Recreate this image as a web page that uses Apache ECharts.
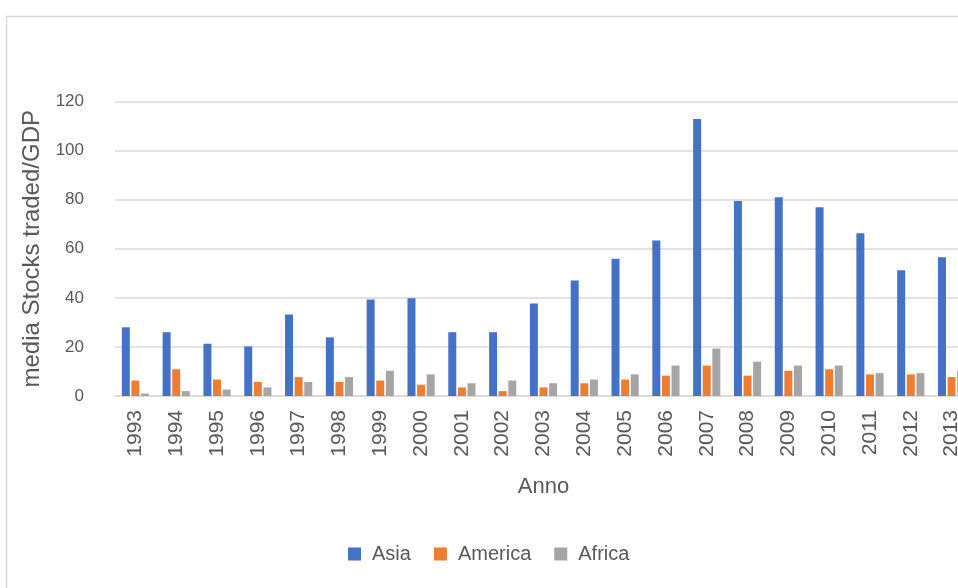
<!DOCTYPE html>
<html>
<head>
<meta charset="utf-8">
<script src="https://cdn.jsdelivr.net/npm/echarts@6/dist/echarts.min.js"></script>
<style>
html,body{margin:0;padding:0;background:#fff;}
#chart{width:958px;height:588px;}
</style>
</head>
<body>
<div id="chart"></div>
<script>
const years = ['1993','1994','1995','1996','1997','1998','1999','2000','2001','2002','2003','2004','2005','2006','2007','2008','2009','2010','2011','2012','2013'];
const asia    = [28.0, 26.0, 21.3, 20.2, 33.2, 23.9, 39.3, 39.8, 26.0, 26.0, 37.7, 47.1, 55.9, 63.4, 112.9, 79.5, 81.0, 76.9, 66.3, 51.2, 56.5];
const america = [6.3, 10.9, 6.7, 5.7, 7.7, 5.7, 6.3, 4.6, 3.5, 2.0, 3.5, 5.2, 6.7, 8.3, 12.4, 8.3, 10.3, 10.9, 8.8, 8.8, 7.7];
const africa  = [1.0, 2.0, 2.6, 3.5, 5.7, 7.7, 10.3, 8.8, 5.2, 6.3, 5.2, 6.7, 8.8, 12.4, 19.3, 14.0, 12.4, 12.4, 9.3, 9.3, 10.3];
const yTicks = [0, 20, 40, 60, 80, 100, 120];

const txt = '#595959';
const font = 'Liberation Sans';
const chart = echarts.init(document.getElementById('chart'));
chart.setOption({
  animation: false,
  textStyle: {fontFamily: font},
  graphic: [{
    type: 'rect', left: 4, top: 14, silent: true,
    shape: {width: 1100, height: 1000},
    style: {fill: 'none', stroke: '#D9D9D9', lineWidth: 1.5}
  }],
  legend: {
    left: 343, top: 539,
    itemWidth: 13, itemHeight: 13, itemGap: 23,
    icon: 'rect',
    textStyle: {color: txt, fontSize: 20, fontFamily: font, padding: [0, 0, 0, 6]},
    data: ['Asia', 'America', 'Africa']
  },
  grid: {left: 115, width: 857, top: 101.5, height: 294.5, containLabel: false, outerBoundsMode: 'none'},
  xAxis: {
    type: 'category',
    data: years,
    name: 'Anno',
    nameLocation: 'middle',
    nameGap: 80,
    nameTextStyle: {color: txt, fontSize: 22, fontFamily: font, verticalAlign: 'top'},
    axisLine: {lineStyle: {color: '#D9D9D9', width: 1.5}},
    axisTick: {show: false},
    axisLabel: {rotate: 90, margin: 14, color: txt, fontSize: 21, fontFamily: font}
  },
  yAxis: {
    type: 'value',
    min: yTicks[0], max: yTicks[yTicks.length - 1], interval: 20,
    name: 'media Stocks traded/GDP',
    nameLocation: 'middle',
    nameGap: 68,
    nameTextStyle: {color: txt, fontSize: 24, fontFamily: font},
    axisLine: {show: false},
    axisTick: {show: false},
    axisLabel: {margin: 31, color: txt, fontSize: 17, fontFamily: font},
    splitLine: {lineStyle: {color: '#D9D9D9', width: 1.5}}
  },
  series: [
    {name: 'Asia', type: 'bar', data: asia, barWidth: 8, barGap: '20%', itemStyle: {color: '#4472C4'}},
    {name: 'America', type: 'bar', data: america, barWidth: 8, barGap: '20%', itemStyle: {color: '#ED7D31'}},
    {name: 'Africa', type: 'bar', data: africa, barWidth: 8, barGap: '20%', itemStyle: {color: '#A5A5A5'}}
  ]
});
</script>
</body>
</html>
